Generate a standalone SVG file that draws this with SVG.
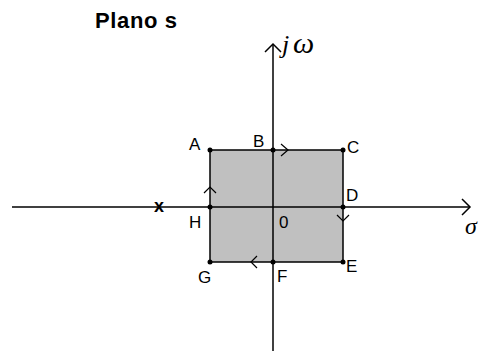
<svg xmlns="http://www.w3.org/2000/svg" width="480" height="351" viewBox="0 0 480 351">
<style>
.ax{stroke:#000;stroke-width:1.5;fill:none}
.ch{stroke:#000;stroke-width:1.2;fill:none}
.lb{font-family:"Liberation Sans",Arial,sans-serif;font-size:17px;fill:#000}
.dot{fill:#000}
</style>
<rect width="480" height="351" fill="#fff"/>
<text x="95" y="28" font-family="Liberation Sans,Arial,sans-serif" font-weight="bold" font-size="22" textLength="82" fill="#000">Plano s</text>
<g id="region">
<rect x="210" y="150" width="133" height="112" fill="#c0c0c0" stroke="#000" stroke-width="1.5"/>
</g>
<g id="connectors">
<line class="ax" x1="273" y1="351" x2="273" y2="44"/>
<path class="ax" d="M265 52 L273 44 L281 52"/>
<line class="ax" x1="12" y1="207" x2="470" y2="207"/>
<path class="ax" d="M462 199 L470 207 L462 215"/>
<path class="ch" d="M281 144 L288 150 L281 156"/>
<path class="ch" d="M204 193 L210 187 L216 193"/>
<path class="ch" d="M337 215 L343 221 L349 215"/>
<path class="ch" d="M257 256 L251 262 L257 268"/>
</g>
<g id="points">
<circle class="dot" cx="210" cy="150" r="2.5"/>
<circle class="dot" cx="273" cy="150" r="2.5"/>
<circle class="dot" cx="343" cy="150" r="2.5"/>
<circle class="dot" cx="343" cy="207" r="2.5"/>
<circle class="dot" cx="343" cy="262" r="2.5"/>
<circle class="dot" cx="273" cy="262" r="2.5"/>
<circle class="dot" cx="210" cy="262" r="2.5"/>
<circle class="dot" cx="210" cy="207" r="2.5"/>
</g>
<g id="labels">
<text class="lb" x="189" y="150">A</text>
<text class="lb" x="253" y="147">B</text>
<text class="lb" x="347" y="153">C</text>
<text class="lb" x="346" y="201">D</text>
<text class="lb" x="346" y="272">E</text>
<text class="lb" x="277" y="282">F</text>
<text class="lb" x="198" y="283">G</text>
<text class="lb" x="189" y="228">H</text>
<text class="lb" x="279" y="228">0</text>
<text x="154" y="212" font-family="Liberation Sans,Arial,sans-serif" font-weight="bold" font-size="18" fill="#000">x</text>
<text x="282" y="53" font-family="Liberation Serif,Times New Roman,serif" font-style="italic" fill="#000"><tspan font-size="26">j</tspan><tspan x="293" font-size="30">ω</tspan></text>
<text x="465" y="234" font-family="Liberation Serif,Times New Roman,serif" font-style="italic" font-size="24" fill="#000">σ</text>
</g>
</svg>
